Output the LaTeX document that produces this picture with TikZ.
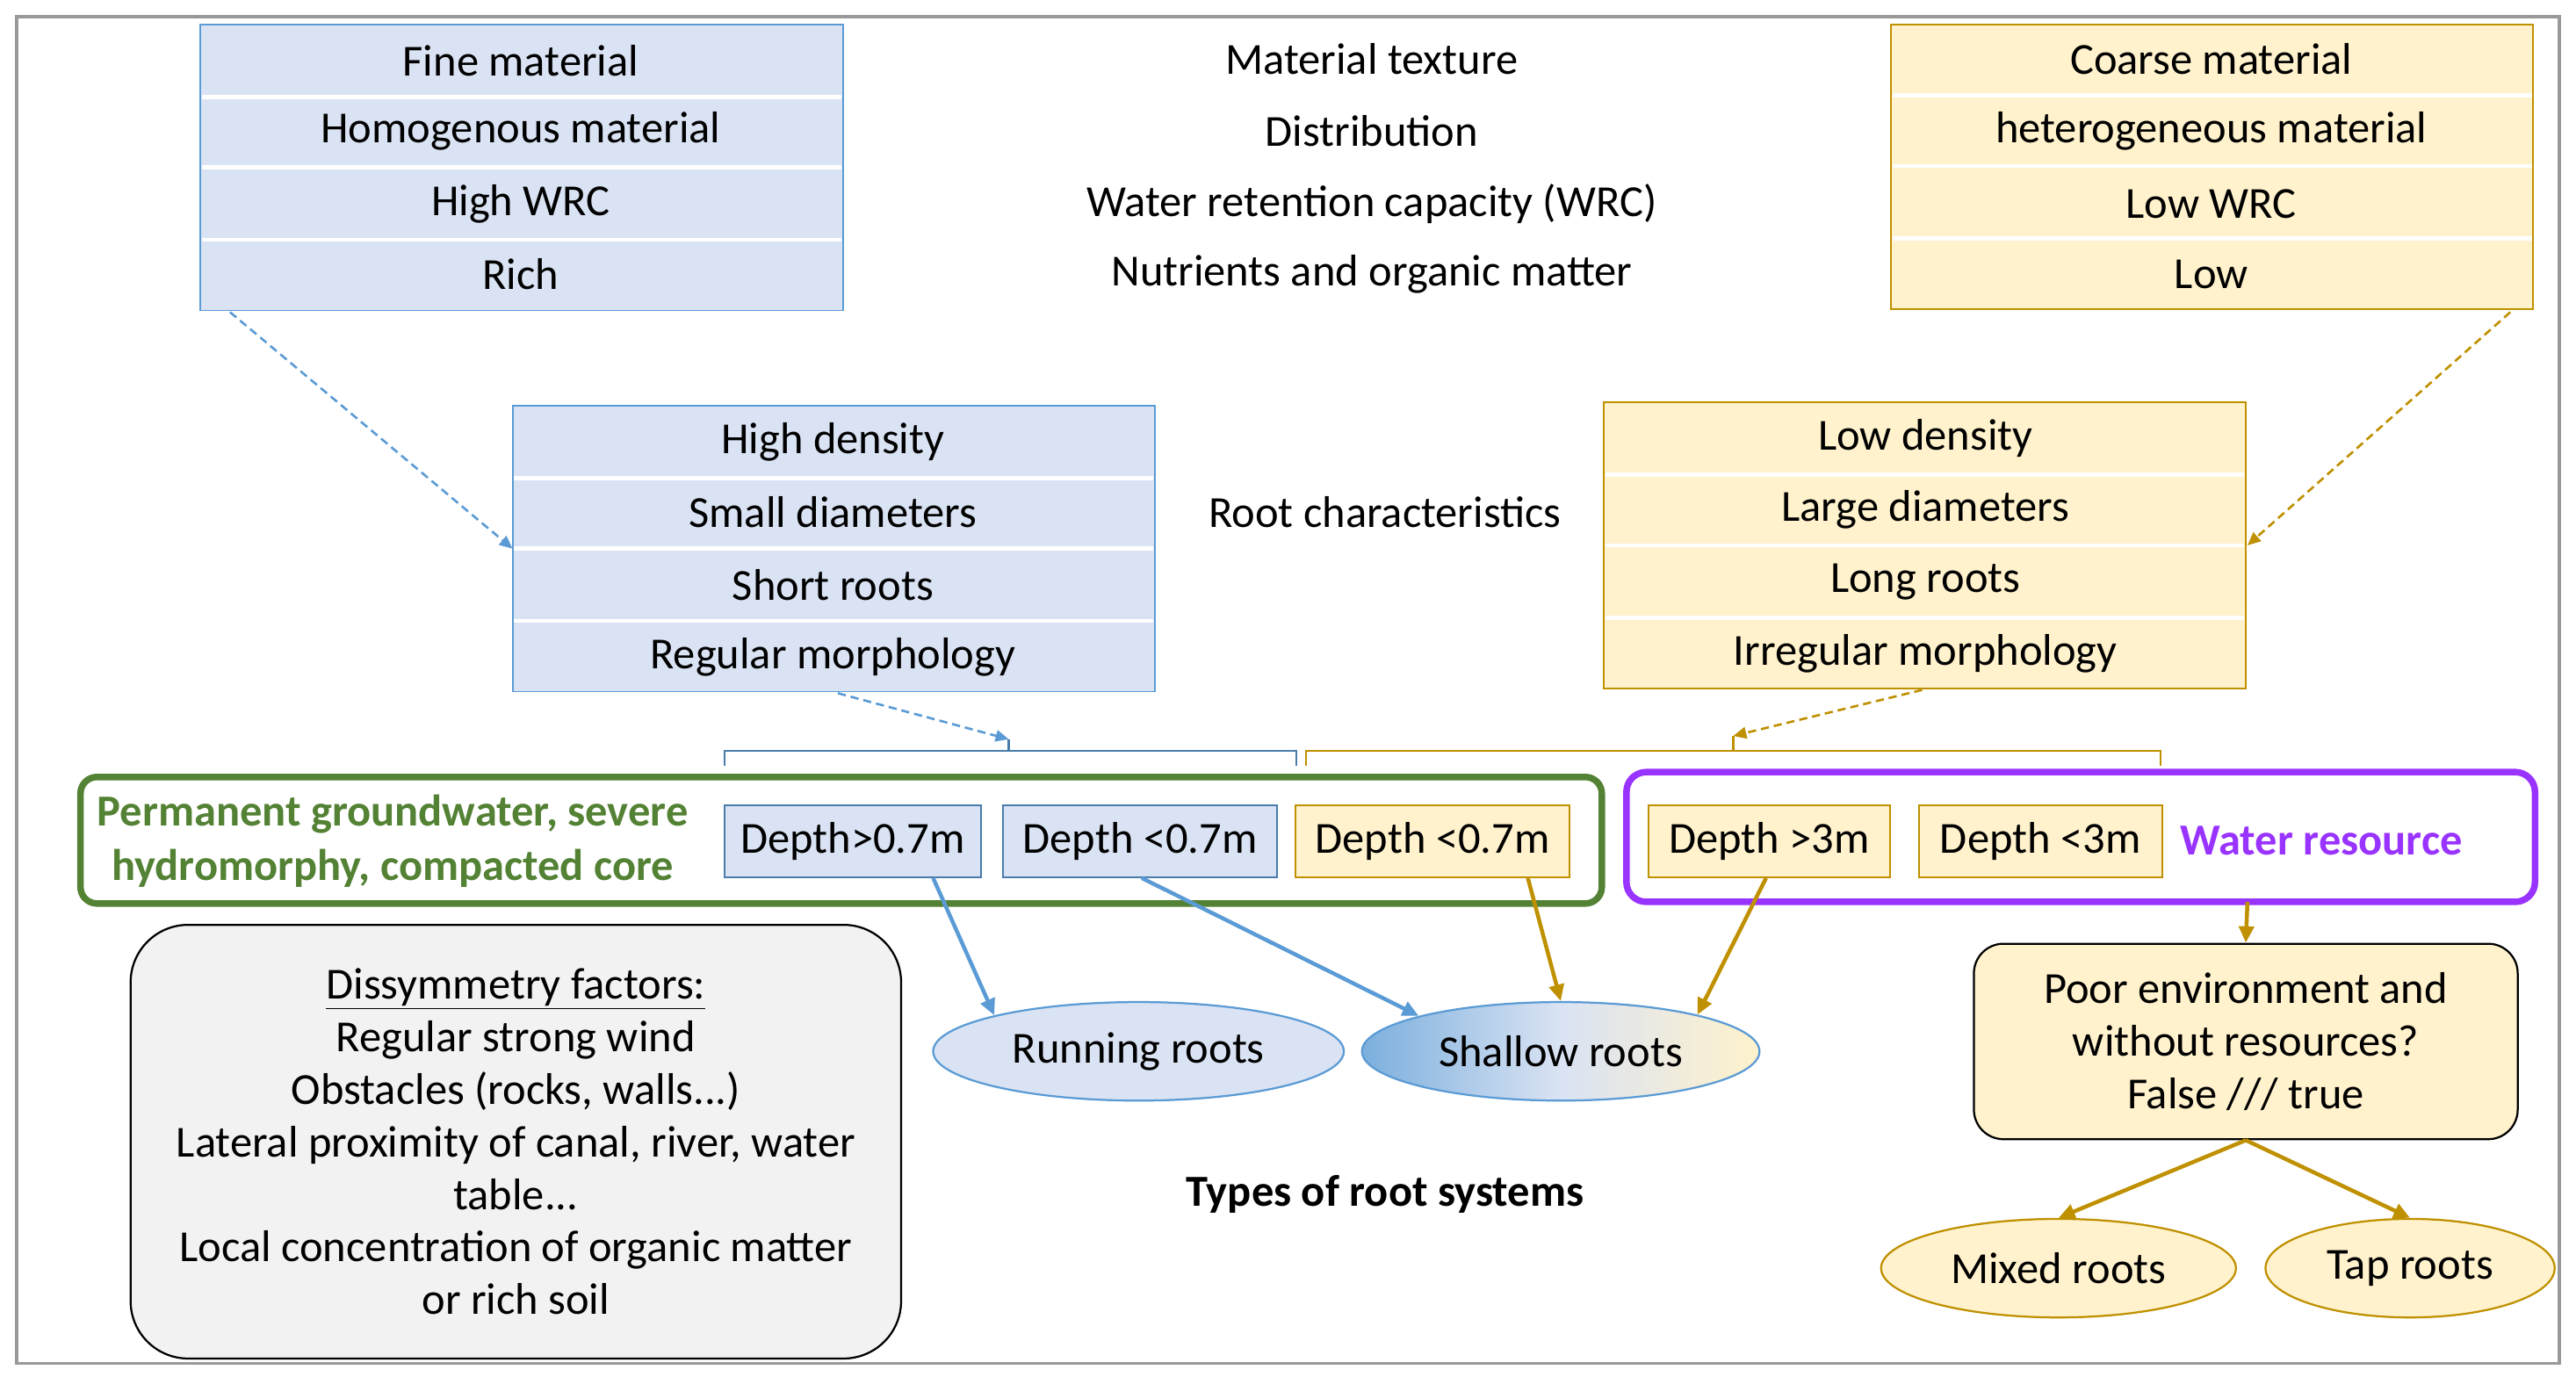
\documentclass[tikz,border=0pt]{standalone}
\usepackage{fontspec}
\setmainfont{Carlito}
\usetikzlibrary{shapes.geometric,arrows.meta,calc}
\definecolor{bfill}{RGB}{218,227,243}
\definecolor{bline}{RGB}{91,155,213}
\definecolor{yfill}{RGB}{255,242,204}
\definecolor{yline}{RGB}{191,144,0}
\definecolor{gline}{RGB}{84,130,53}
\definecolor{pline}{RGB}{153,51,255}
\begin{document}
\begin{tikzpicture}[x=1pt,y=-1pt,font=\fontsize{27}{32}\selectfont,
 dep/.style={draw,line width=1,minimum height=44,inner sep=2},
 bdep/.style={dep,fill=bfill,draw=bline!80!black},
 ydep/.style={dep,fill=yfill,draw=yline},
 barr/.style={bline,line width=2.4,-{Triangle[length=10,width=9]}},
 yarr/.style={yline,line width=2.4,-{Triangle[length=10,width=9]}},
 dbarr/.style={bline,line width=1.4,dash pattern=on 5pt off 3pt,-{Triangle[length=8,width=7]}},
 dyarr/.style={yline,line width=1.4,dash pattern=on 5pt off 3pt,-{Triangle[length=8,width=7]}},
 ell/.style={ellipse,draw,line width=1.2,inner sep=0}]
\useasboundingbox (0,0) rectangle (1568,838);
\draw[gray!80,line width=2] (10,10) rectangle (1558,830);
% top left box
\draw[bline,fill=bfill,line width=1] (122,15) rectangle (513,189);
\foreach \y in {59,102,146} \draw[white,line width=2.5] (123,\y)--(512,\y);
\node (tl1) at (317,37) {Fine material};
\node (tl2) at (317,80) {Homogenous material};
\node (tl3) at (317,124) {High WRC};
\node (tl4) at (317,167) {Rich};
% middle labels
\node (m1) at (835,36) {Material texture};
\node (m2) at (835,80) {Distribution};
\node (m3) at (835,124) {Water retention capacity (WRC)};
\node (m4) at (835,167) {Nutrients and organic matter};
% top right
\draw[yline,fill=yfill,line width=1] (1151,15) rectangle (1542,188);
\foreach \y in {58,101,145} \draw[white,line width=2.5] (1152,\y)--(1541,\y);
\node (tr1) at (1346,36) {Coarse material};
\node (tr2) at (1346,80) {heterogeneous material};
\node (tr3) at (1346,124) {Low WRC};
\node (tr4) at (1346,167) {Low};
% mid left
\draw[bline,fill=bfill,line width=1] (312,247) rectangle (703,421);
\foreach \y in {291,334,378} \draw[white,line width=2.5] (313,\y)--(702,\y);
\node (ml1) at (507,269) {High density};
\node (ml2) at (507,312) {Small diameters};
\node (ml3) at (507,356) {Short roots};
\node (ml4) at (507,400) {Regular morphology};
\node (rc) at (843,312) {Root characteristics};
% mid right
\draw[yline,fill=yfill,line width=1] (976,245) rectangle (1367,419);
\foreach \y in {289,332,376} \draw[white,line width=2.5] (977,\y)--(1366,\y);
\node (mr1) at (1172,267) {Low density};
\node (mr2) at (1172,310) {Large diameters};
\node (mr3) at (1172,354) {Long roots};
\node (mr4) at (1172,398) {Irregular morphology};
% coordinates
\coordinate (a1s) at (140,190); \coordinate (a1e) at (312,334);
\coordinate (a2s) at (1528,190); \coordinate (a2e) at (1368,332);
\coordinate (bt) at (614,450); \coordinate (yt) at (1055,448);
\coordinate (a3s) at (510,422); \coordinate (a4s) at (1170,420);
\draw[dbarr] (a1s)--(a1e);
\draw[dyarr] (a2s)--(a2e);
\draw[dbarr] (a3s)--(bt);
\draw[dyarr] (a4s)--(yt);
% brackets
\draw[bline!80!black,line width=1.3] (441,466)--(441,457)--(789,457)--(789,466) (614,457)--(bt);
\draw[yline,line width=1.3] (795,466)--(795,457)--(1315,457)--(1315,466) (1055,457)--(yt);
% green box
\draw[gline,line width=4,rounded corners=10] (49,473) rectangle (975,550);
\node[text=gline,font=\fontsize{27}{33}\selectfont\bfseries,align=center] (pg) at (239,512) {Permanent groundwater, severe\\hydromorphy, compacted core};
\node[bdep,minimum width=156] (d1) at (519,512) {Depth>0.7m};
\node[bdep,minimum width=167] (d2) at (694,512) {Depth <0.7m};
\node[ydep,minimum width=167] (d3) at (872,512) {Depth <0.7m};
% purple box
\draw[pline,line width=4,rounded corners=12] (990,470) rectangle (1543,549);
\node[ydep,minimum width=147] (d4) at (1077,512) {Depth >3m};
\node[ydep,minimum width=148] (d5) at (1242,512) {Depth <3m};
\node[text=pline,font=\fontsize{27}{32}\selectfont\bfseries] (wr) at (1413,512) {Water resource};
\coordinate (pb) at (1368,549);
% ellipses
\node[ell,draw=bline,fill=bfill,minimum width=250,minimum height=60] (run) at (693,640) {Running roots};
\node[ell,draw=bline,left color=bline!80,right color=yfill,middle color=bfill,minimum width=242,minimum height=60] (sha) at (950,640) {Shallow roots};
\node[ell,draw=yline,fill=yfill,minimum width=216,minimum height=60] (mix) at (1253,772) {Mixed roots};
\node[ell,draw=yline,fill=yfill,minimum width=176,minimum height=60] (tap) at (1467,772) {Tap roots};
% poor env
\node[draw,fill=yfill,line width=1.2,rounded corners=18,minimum width=331,minimum height=119,align=center,font=\fontsize{27}{32}\selectfont] (poor) at (1367,634) {Poor environment and\\without resources?\\False /// true};
% dissymmetry
\node[draw,fill=black!5,line width=1.2,rounded corners=35,minimum width=469,minimum height=264,align=center,font=\fontsize{27}{32}\selectfont] (dis) at (314,695) {\underline{Dissymmetry factors:}\\Regular strong wind\\Obstacles (rocks, walls...)\\Lateral proximity of canal, river, water\\table...\\Local concentration of organic matter\\or rich soil};
\node[font=\fontsize{27}{32}\selectfont\bfseries] (types) at (843,727) {Types of root systems};
% arrows
\draw[barr] ($(d1.south)+(49,0)$) -- (run.166);
\draw[barr] ($(d2.south)+(1,0)$) -- (sha.166);
\draw[yarr] ($(d3.south)+(58,0)$) -- (sha.north);
\draw[yarr] ($(d4.south)+(-2,0)$) -- (sha.15);
\draw[yarr] (pb) -- (poor.north);
\draw[yarr] (poor.south) -- (mix.north);
\draw[yarr] (poor.south) -- (tap.north);
\end{tikzpicture}
\end{document}
